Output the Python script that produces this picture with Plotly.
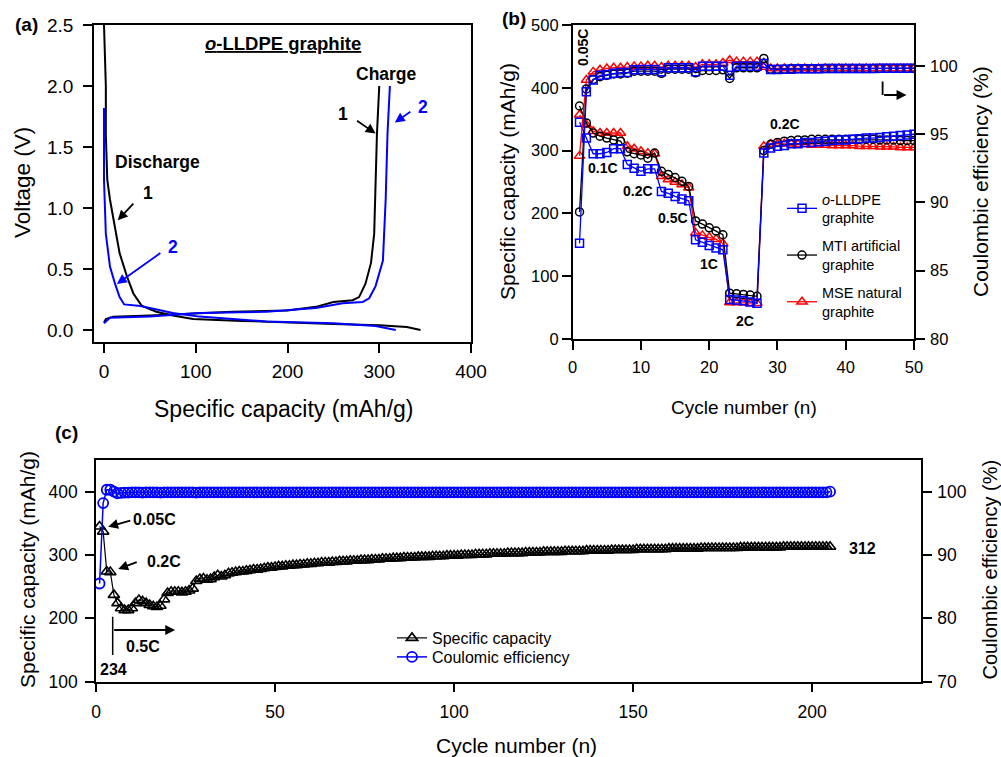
import plotly.graph_objects as go

FONT = "Liberation Sans, Arial, sans-serif"

# ---------------- Panel (a): voltage profiles ----------------
a_dis1_cap = [0, 1, 2, 2, 3.6, 6.5, 12, 17, 25, 32, 41, 57, 75, 97, 150, 200, 250, 300, 330, 345]
a_dis1_v = [2.5, 2.25, 2.0, 1.6, 1.23, 1.07, 0.82, 0.63, 0.44, 0.30, 0.20, 0.15, 0.12, 0.09, 0.075, 0.06, 0.05, 0.04, 0.025, 0.0]
a_dis2_cap = [0, 0, 2, 6.5, 12, 17, 22, 37, 50, 75, 104, 140, 177, 250, 296, 318]
a_dis2_v = [1.82, 1.23, 0.79, 0.52, 0.38, 0.27, 0.21, 0.20, 0.18, 0.14, 0.11, 0.09, 0.07, 0.055, 0.033, 0.0]
a_chg1_cap = [0, 2, 10, 50, 140, 200, 231, 250, 271, 278, 285, 291, 294.5, 296, 297.5, 300]
a_chg1_v = [0.06, 0.09, 0.11, 0.12, 0.15, 0.16, 0.19, 0.23, 0.245, 0.27, 0.38, 0.55, 0.79, 1.23, 1.61, 2.0]
a_chg2_cap = [0, 6.5, 50, 104, 177, 231, 260, 282, 289, 296, 304, 307, 309, 311.6]
a_chg2_v = [0.055, 0.10, 0.11, 0.14, 0.15, 0.18, 0.22, 0.23, 0.26, 0.36, 0.57, 1.07, 1.61, 2.0]

# ---------------- Panel (b): rate capability ----------------
b_cycles = list(range(1, 51))
b_lldpe_cap = [345, 320, 295, 295, 297, 303, 303, 278, 272, 267, 271, 271, 235, 232, 227, 223, 220,
               158, 154, 149, 145, 142, 63, 62, 61, 59, 57, 296, 304, 307, 308, 311, 311, 313, 313,
               314, 315, 316, 317, 317, 318, 319, 320, 320, 321, 322, 323, 324, 325, 326]
b_mti_cap = [371, 344, 328, 323, 320, 317, 315, 298, 295, 293, 288, 296, 267, 262, 257, 251, 243,
             188, 183, 177, 172, 166, 73, 72, 71, 70, 68, 300, 310, 313, 315, 316, 317, 317, 318,
             318, 318, 318, 318, 318, 318, 318, 318, 318, 317, 317, 317, 316, 316, 316]
b_mse_cap = [357, 341, 331, 328, 328, 328, 328, 307, 303, 299, 296, 295, 259, 254, 250, 246, 241,
             169, 165, 162, 159, 152, 58, 58, 58, 57, 57, 307, 310, 311, 311, 311, 310, 310, 309,
             309, 309, 308, 308, 308, 308, 307, 307, 307, 306, 306, 306, 305, 305, 305]
b_lldpe_ce = [87.0, 98.1, 98.95, 99.3, 99.35, 99.45, 99.5, 99.5, 99.7, 99.73, 99.73, 99.73, 99.55,
              99.85, 99.85, 99.85, 99.85, 99.55, 99.97, 99.97, 99.97, 99.97, 99.3, 99.97, 99.97,
              99.97, 99.97, 100.17, 99.73, 99.73, 99.75, 99.75, 99.78, 99.78, 99.78, 99.78, 99.8,
              99.8, 99.8, 99.8, 99.8, 99.8, 99.8, 99.8, 99.82, 99.82, 99.82, 99.82, 99.82, 99.82]
b_mti_ce = [89.3, 98.3, 99.0, 99.2, 99.3, 99.4, 99.4, 99.45, 99.6, 99.6, 99.6, 99.6, 99.44, 99.75,
            99.75, 99.75, 99.75, 99.48, 99.65, 99.65, 99.65, 99.7, 99.07, 99.85, 99.85, 99.85,
            99.85, 100.53, 99.75, 99.75, 99.75, 99.78, 99.78, 99.78, 99.78, 99.78, 99.8, 99.8,
            99.8, 99.8, 99.8, 99.8, 99.8, 99.8, 99.8, 99.8, 99.8, 99.8, 99.8, 99.8]
b_mse_ce = [93.4, 98.95, 99.55, 99.7, 99.8, 99.85, 99.85, 99.9, 99.95, 99.95, 100.0, 100.0, 99.9,
            100.0, 100.0, 100.0, 100.0, 99.9, 100.1, 100.1, 100.1, 100.2, 100.4, 100.3, 100.3,
            100.3, 100.3, 99.9, 99.8, 99.8, 99.8, 99.8, 99.8, 99.8, 99.8, 99.8, 99.8, 99.8, 99.8,
            99.8, 99.8, 99.8, 99.8, 99.8, 99.8, 99.8, 99.8, 99.8, 99.8, 99.8]

# ---------------- Panel (c): long-term cycling ----------------
c_cycles = list(range(1, 206))
c_cap = [345, 337, 274, 273, 237, 224, 216, 213, 213, 216,
         224, 229, 227, 224, 221, 219, 218, 220, 230, 240,
         242, 242, 242, 241, 242, 244, 247, 259, 262, 263,
         261, 262, 265, 268, 266, 268, 271, 272, 273, 274,
         274, 275, 276, 277, 277, 278, 279, 280, 280, 281,
         282, 282, 283, 283, 284, 284, 285, 285, 286, 286,
         287, 287, 288, 288, 288, 289, 289, 290, 290, 290,
         291, 291, 291, 292, 292, 292, 293, 293, 293, 294,
         294, 294, 295, 295, 295, 296, 296, 296, 296, 297,
         297, 297, 297, 298, 298, 298, 298, 299, 299, 299,
         299, 300, 300, 300, 300, 301, 301, 301, 301, 302,
         302, 302, 302, 302, 303, 303, 303, 303, 303, 304,
         304, 304, 304, 304, 305, 305, 305, 305, 305, 305,
         306, 306, 306, 306, 306, 306, 307, 307, 307, 307,
         307, 307, 307, 308, 308, 308, 308, 308, 308, 308,
         309, 309, 309, 309, 309, 309, 309, 309, 309, 310,
         310, 310, 310, 310, 310, 310, 310, 310, 311, 311,
         311, 311, 311, 311, 311, 311, 311, 311, 311, 312,
         312, 312, 312, 312, 312, 312, 312, 312, 312, 312,
         312, 313, 313, 313, 313, 313, 313, 313, 313, 313,
         313, 313, 313, 313, 313]
c_ce = [85.5, 98.2, 100.3, 100.3, 100.0, 99.75, 99.8, 99.85, 99.85, 99.9,
        99.9, 99.9, 99.85, 99.9, 99.9, 99.9, 99.9, 99.85, 99.9, 99.9,
        99.9, 99.9, 99.9, 99.9, 99.9, 99.9, 99.9, 99.85, 99.9, 99.9,
        99.9, 99.9, 99.9, 99.9, 99.9, 99.9, 99.9, 99.9, 99.9, 99.9,
        99.9, 99.9, 99.9, 99.9, 99.9, 99.9, 99.9, 99.9, 99.9, 99.9,
        99.9, 99.9, 99.9, 99.9, 99.9, 99.9, 99.9, 99.9, 99.9, 99.9,
        99.9, 99.9, 99.9, 99.9, 99.9, 99.9, 99.9, 99.9, 99.9, 99.9,
        99.9, 99.9, 99.9, 99.9, 99.9, 99.9, 99.9, 99.9, 99.9, 99.9,
        99.9, 99.9, 99.9, 99.9, 99.9, 99.9, 99.9, 99.9, 99.9, 99.9,
        99.9, 99.9, 99.9, 99.9, 99.9, 99.9, 99.9, 99.9, 99.9, 99.9,
        99.9, 99.9, 99.9, 99.9, 99.9, 99.9, 99.9, 99.9, 99.9, 99.9,
        99.9, 99.9, 99.9, 99.9, 99.9, 99.9, 99.9, 99.9, 99.9, 99.9,
        99.9, 99.9, 99.9, 99.9, 99.9, 99.9, 99.9, 99.9, 99.9, 99.9,
        99.9, 99.9, 99.9, 99.9, 99.9, 99.9, 99.9, 99.9, 99.9, 99.9,
        99.9, 99.9, 99.9, 99.9, 99.9, 99.9, 99.9, 99.9, 99.9, 99.9,
        99.9, 99.9, 99.9, 99.9, 99.9, 99.9, 99.9, 99.9, 99.9, 99.9,
        99.9, 99.9, 99.9, 99.9, 99.9, 99.9, 99.9, 99.9, 99.9, 99.9,
        99.9, 99.9, 99.9, 99.9, 99.9, 99.9, 99.9, 99.9, 99.9, 99.9,
        99.9, 99.9, 99.9, 99.9, 99.9, 99.9, 99.9, 99.9, 99.9, 99.9,
        99.9, 99.9, 99.9, 99.9, 99.9, 99.9, 99.9, 99.9, 99.9, 99.9,
        99.9, 99.9, 99.9, 99.9, 100.0]

BLUE = "#0000ff"
RED = "#ff0000"
BLACK = "#000000"

fig = go.Figure()

# Panel (a)
for cap, v, col in [(a_dis1_cap, a_dis1_v, BLACK), (a_chg1_cap, a_chg1_v, BLACK),
                    (a_dis2_cap, a_dis2_v, BLUE), (a_chg2_cap, a_chg2_v, BLUE)]:
    fig.add_trace(go.Scatter(x=cap, y=v, mode="lines", line=dict(color=col, width=2),
                             xaxis="x", yaxis="y", showlegend=False, hoverinfo="skip"))

# Panel (b)
fig.add_trace(go.Scatter(x=b_cycles, y=b_mse_ce, mode="lines+markers", xaxis="x2", yaxis="y3",
                         line=dict(color=RED, width=1.3),
                         marker=dict(symbol="triangle-up-open", size=9, color=RED, line=dict(width=1.5)),
                         showlegend=False, legendgroup="mse"))
fig.add_trace(go.Scatter(x=b_cycles, y=b_mse_cap, mode="lines+markers", xaxis="x2", yaxis="y2",
                         line=dict(color=RED, width=1.3),
                         marker=dict(symbol="triangle-up-open", size=9, color=RED, line=dict(width=1.5)),
                         name="MSE natural<br>graphite", legendgroup="mse", legendrank=3))
fig.add_trace(go.Scatter(x=b_cycles, y=b_mti_ce, mode="lines+markers", xaxis="x2", yaxis="y3",
                         line=dict(color=BLACK, width=1.3),
                         marker=dict(symbol="circle-open", size=8, color=BLACK, line=dict(width=1.5)),
                         showlegend=False, legendgroup="mti"))
fig.add_trace(go.Scatter(x=b_cycles, y=b_mti_cap, mode="lines+markers", xaxis="x2", yaxis="y2",
                         line=dict(color=BLACK, width=1.3),
                         marker=dict(symbol="circle-open", size=8, color=BLACK, line=dict(width=1.5)),
                         name="MTI artificial<br>graphite", legendgroup="mti", legendrank=2))
fig.add_trace(go.Scatter(x=b_cycles, y=b_lldpe_ce, mode="lines+markers", xaxis="x2", yaxis="y3",
                         line=dict(color=BLUE, width=1.3),
                         marker=dict(symbol="square-open", size=8, color=BLUE, line=dict(width=1.5)),
                         showlegend=False, legendgroup="lldpe"))
fig.add_trace(go.Scatter(x=b_cycles, y=b_lldpe_cap, mode="lines+markers", xaxis="x2", yaxis="y2",
                         line=dict(color=BLUE, width=1.3),
                         marker=dict(symbol="square-open", size=8, color=BLUE, line=dict(width=1.5)),
                         name="<i>o</i>-LLDPE<br>graphite", legendgroup="lldpe", legendrank=1))

# Panel (c)
fig.add_trace(go.Scatter(x=c_cycles, y=c_cap, mode="lines+markers", xaxis="x3", yaxis="y4",
                         line=dict(color=BLACK, width=1.2),
                         marker=dict(symbol="triangle-up-open", size=10, color=BLACK, line=dict(width=1.6)),
                         name="Specific capacity", legend="legend2"))
fig.add_trace(go.Scatter(x=c_cycles, y=c_ce, mode="lines+markers", xaxis="x3", yaxis="y5",
                         line=dict(color=BLUE, width=1.5),
                         marker=dict(symbol="circle-open", size=10, color=BLUE, line=dict(width=1.8)),
                         name="Coulomic efficiency", legend="legend3"))

W, H = 1001, 757


def px(x):
    return x / W


def py(y):
    return 1 - y / H


axis_common = dict(showline=True, linecolor="black", linewidth=1.5, ticks="outside", ticklen=9,
                   tickwidth=1.5, tickcolor="black", showgrid=False, zeroline=False, automargin=False)

layout = dict(
    width=W, height=H, margin=dict(l=0, r=0, t=0, b=0, pad=0, autoexpand=False),
    paper_bgcolor="white", plot_bgcolor="white",
    font=dict(family=FONT, color="black"),
    xaxis=dict(domain=[px(94), px(471)], anchor="y", range=[-10.9, 400],
               tickvals=[0, 100, 200, 300, 400], mirror=True, tickfont=dict(size=19),
               ticklabelstandoff=2, **axis_common),
    yaxis=dict(domain=[py(342), py(25)], anchor="x", range=[-0.098, 2.5],
               tickvals=[0, 0.5, 1.0, 1.5, 2.0, 2.5], tickformat=".1f", mirror=True,
               tickfont=dict(size=19), ticklabelstandoff=6, **axis_common),
    xaxis2=dict(domain=[px(572.7), px(914)], anchor="y2", range=[0, 50],
                tickvals=[0, 10, 20, 30, 40, 50], mirror=True, tickfont=dict(size=16.5),
                ticklabelstandoff=3, **axis_common),
    yaxis2=dict(domain=[py(339), py(25)], anchor="x2", range=[0, 500],
                tickvals=[0, 100, 200, 300, 400, 500], tickfont=dict(size=16.5), **axis_common),
    yaxis3=dict(overlaying="y2", anchor="x2", side="right", range=[80, 102.98],
                tickvals=[80, 85, 90, 95, 100], tickfont=dict(size=16.5), ticklabelstandoff=2,
                **axis_common),
    xaxis3=dict(domain=[px(96), px(921)], anchor="y4", range=[0, 230.4],
                tickvals=[0, 50, 100, 150, 200], mirror=True, tickfont=dict(size=17.5),
                ticklabelstandoff=5, **axis_common),
    yaxis4=dict(domain=[py(681.7), py(460)], anchor="x3", range=[100, 450],
                tickvals=[100, 200, 300, 400], tickfont=dict(size=17.5), ticklabelstandoff=4,
                **axis_common),
    yaxis5=dict(overlaying="y4", anchor="x3", side="right", range=[70, 105],
                tickvals=[70, 80, 90, 100], tickfont=dict(size=17.5), ticklabelstandoff=2,
                **axis_common),
    legend=dict(x=px(782), y=py(183), xanchor="left", yanchor="top", bgcolor="rgba(0,0,0,0)",
                font=dict(size=14.5), traceorder="grouped", tracegroupgap=6, itemwidth=30),
    legend2=dict(x=px(392), y=py(621), xanchor="left", yanchor="top", bgcolor="rgba(0,0,0,0)",
                 font=dict(size=16), itemwidth=30),
    legend3=dict(x=px(392), y=py(640), xanchor="left", yanchor="top", bgcolor="rgba(0,0,0,0)",
                 font=dict(size=16), itemwidth=30),
)
fig.update_layout(**layout)

ann = []


def text(x, y, t, size, xref="paper", yref="paper", color="black", angle=0, bold=False):
    if bold:
        t = "<b>" + t + "</b>"
    ann.append(dict(x=x, y=y, xref=xref, yref=yref, text=t, showarrow=False, textangle=angle,
                    font=dict(size=size, color=color, family=FONT), xanchor="center", yanchor="middle"))


def arrow(x, y, axv, ayv, xref, yref, color="black", pixel=True):
    d = dict(x=x, y=y, xref=xref, yref=yref, text="", showarrow=True, arrowhead=2, arrowsize=1.1,
             arrowwidth=1.8, arrowcolor=color, ax=axv, ay=ayv)
    if not pixel:
        d["axref"] = xref
        d["ayref"] = yref
    ann.append(d)


# Panel labels
text(px(26), py(24), "(a)", 19, bold=True)
text(px(514), py(19), "(b)", 19, bold=True)
text(px(66), py(432), "(c)", 19, bold=True)

# Axis titles
text(px(22), py(183), "Voltage (V)", 22.5, angle=-90)
text(px(283), py(409), "Specific capacity (mAh/g)", 23)
text(px(508), py(182), "Specific capacity (mAh/g)", 21, angle=-90)
text(px(981), py(182), "Coulombic efficiency (%)", 21, angle=-90)
text(px(744), py(407), "Cycle number (n)", 19)
text(px(27), py(570), "Specific capacity (mAh/g)", 21, angle=-90)
text(px(989.5), py(570), "Coulombic efficiency (%)", 20, angle=-90)
text(px(516), py(745), "Cycle number (n)", 21)

# Panel (a) annotations
text(194.6, 2.35, "<u><b><i>o</i>-LLDPE graphite</b></u>", 18.5, "x", "y")
text(58.7, 1.377, "Discharge", 17.5, "x", "y", bold=True)
text(307.6, 2.10, "Charge", 17.5, "x", "y", bold=True)
text(47.8, 1.12, "1", 17.5, "x", "y", bold=True)
text(75, 0.68, "2", 17.5, "x", "y", color=BLUE, bold=True)
text(260, 1.77, "1", 17.5, "x", "y", bold=True)
text(348, 1.83, "2", 17.5, "x", "y", color=BLUE, bold=True)
arrow(15, 0.9, 17, -18, "x", "y")
arrow(14, 0.377, 45, -32, "x", "y", color=BLUE)
arrow(296, 1.61, -20, -14, "x", "y")
arrow(317, 1.70, 17, -12, "x", "y", color=BLUE)

# Panel (b) annotations
text(1.5, 465, "0.05C", 14, "x2", "y2", angle=-90, bold=True)
text(4.4, 272, "0.1C", 14, "x2", "y2", bold=True)
text(9.6, 236, "0.2C", 14, "x2", "y2", bold=True)
text(14.7, 193, "0.5C", 14, "x2", "y2", bold=True)
text(20.0, 119, "1C", 14, "x2", "y2", bold=True)
text(25.3, 29, "2C", 14, "x2", "y2", bold=True)
text(31.1, 342, "0.2C", 14, "x2", "y2", bold=True)
arrow(48.9, 388.5, 45.4, 388.5, "x2", "y2", pixel=False)

# Panel (c) annotations
text(16.2, 355.3, "0.05C", 16, "x3", "y4", bold=True)
text(19.0, 289.5, "0.2C", 16, "x3", "y4", bold=True)
text(13.2, 155.3, "0.5C", 16, "x3", "y4", bold=True)
text(5.0, 118.5, "234", 16, "x3", "y4", bold=True)
text(214.2, 310.6, "312", 16, "x3", "y4", bold=True)
arrow(3.4, 344.7, 10.0, 355.0, "x3", "y4", pixel=False)
arrow(6.2, 278.0, 11.8, 289.5, "x3", "y4", pixel=False)
arrow(22.1, 181.6, 4.66, 181.6, "x3", "y4", pixel=False)

fig.update_layout(annotations=ann)

fig.add_shape(type="line", x0=45.4, x1=45.4, y0=410, y1=388.5, xref="x2", yref="y2",
              line=dict(color="black", width=1.8))
fig.add_shape(type="line", x0=4.66, x1=4.66, y0=202.6, y1=142, xref="x3", yref="y4",
              line=dict(color="black", width=1.5))

fig.write_html("out.html")
